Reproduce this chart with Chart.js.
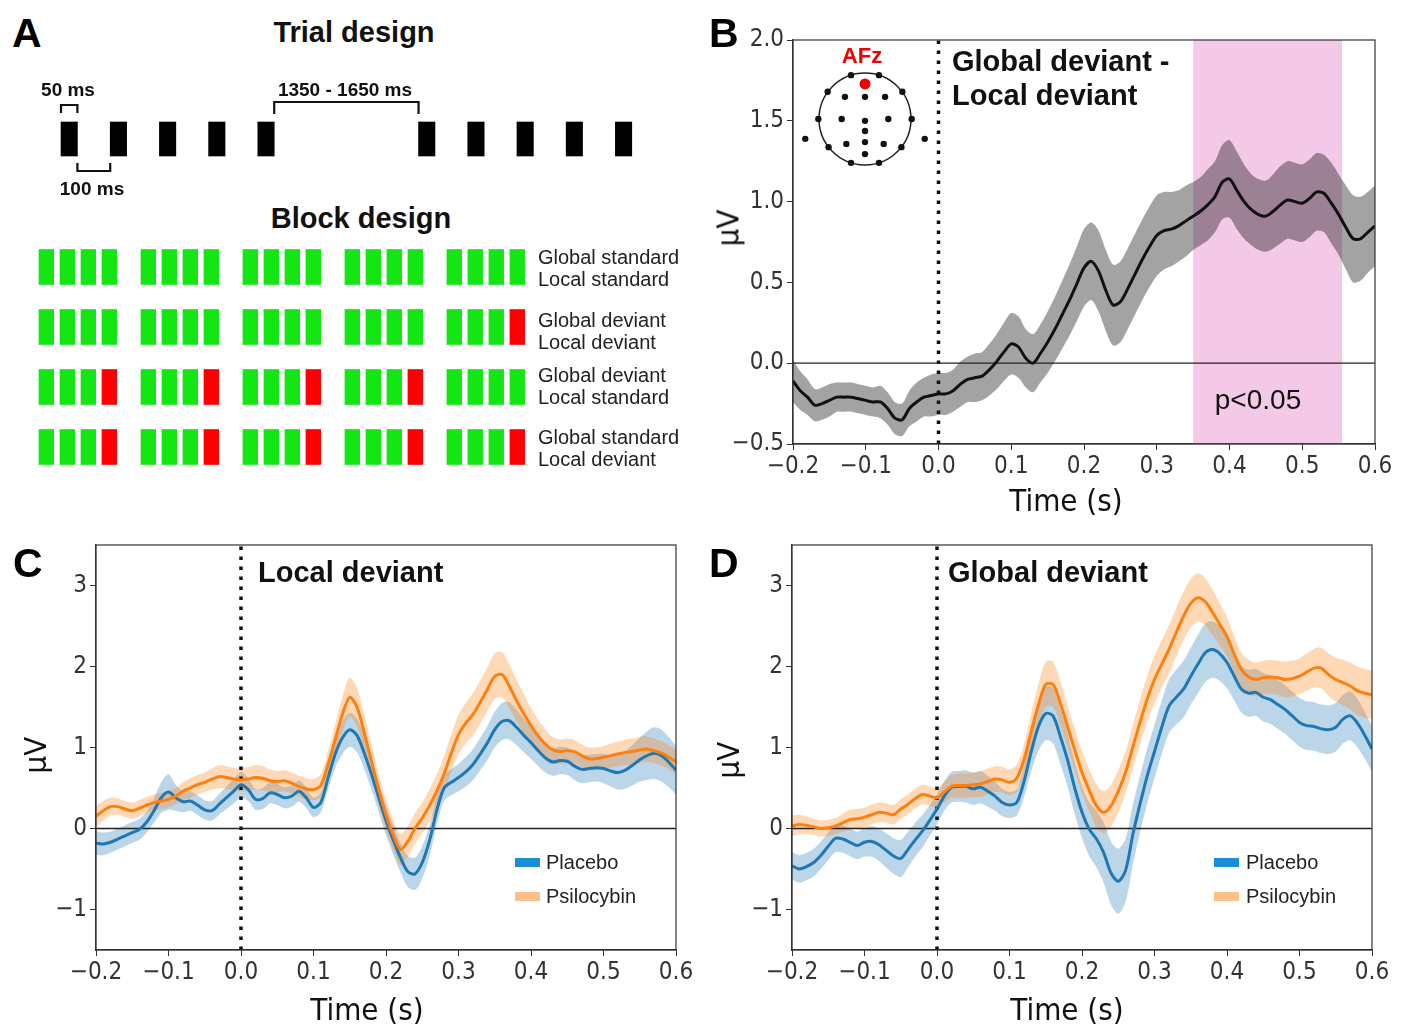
<!DOCTYPE html>
<html>
<head>
<meta charset="utf-8">
<script src="https://cdn.jsdelivr.net/npm/chart.js@4.4.0/dist/chart.umd.min.js"></script>
<style>
body { margin: 0; background: #fff; }
#fig { position: relative; width: 1406px; height: 1027px; overflow: hidden; font-family: "Liberation Sans", Arial, sans-serif; }
#fig canvas { position: absolute; }
.t { position: absolute; white-space: nowrap; line-height: 1; color: #111; }
.sw { position: absolute; }
</style>
</head>
<body>
<div id="fig">
  <canvas id="trial" width="700" height="100" style="left:0;top:89px"></canvas>
  <canvas id="blocks" width="700" height="240" style="left:0;top:240px"></canvas>
  <canvas id="chartB" width="706" height="517" style="left:700px;top:0"></canvas>
  <canvas id="head" width="140" height="120" style="left:795px;top:59px"></canvas>
  <canvas id="chartC" width="700" height="507" style="left:0;top:520px"></canvas>
  <canvas id="chartD" width="706" height="507" style="left:700px;top:520px"></canvas>
</div>
<script>
// ---- panel A: trial and block design ----
var TONE_MS = 50;
var TRIAL_ONSETS = [0, 150, 300, 450, 600, 1090, 1240, 1390, 1540, 1690];

var BLOCK_ROWS = [
    ['AAAA', 'AAAA', 'AAAA', 'AAAA', 'AAAA'],
    ['AAAA', 'AAAA', 'AAAA', 'AAAA', 'AAAB'],
    ['AAAB', 'AAAB', 'AAAB', 'AAAB', 'AAAA'],
    ['AAAB', 'AAAB', 'AAAB', 'AAAB', 'AAAB']
];
var ROW_LABELS = [
    ['Global standard', 'Local standard'],
    ['Global deviant', 'Local deviant'],
    ['Global deviant', 'Local standard'],
    ['Global standard', 'Local deviant']
];

// ---- ERP time courses (s, µV) ----
var TIME = [-0.20,-0.19,-0.18,-0.17,-0.16,-0.15,-0.14,-0.13,-0.12,-0.11,
    -0.10,-0.09,-0.08,-0.07,-0.06,-0.05,-0.04,-0.03,-0.02,-0.01,
    0.00,0.01,0.02,0.03,0.04,0.05,0.06,0.07,0.08,0.09,
    0.10,0.11,0.12,0.13,0.14,0.15,0.16,0.17,0.18,0.19,
    0.20,0.21,0.22,0.23,0.24,0.25,0.26,0.27,0.28,0.29,
    0.30,0.31,0.32,0.33,0.34,0.35,0.36,0.37,0.38,0.39,
    0.40,0.41,0.42,0.43,0.44,0.45,0.46,0.47,0.48,0.49,
    0.50,0.51,0.52,0.53,0.54,0.55,0.56,0.57,0.58,0.59,
    0.60];

var B_DIFF = [-0.11,-0.17,-0.21,-0.26,-0.25,-0.23,-0.21,-0.21,-0.21,-0.22,
    -0.23,-0.24,-0.24,-0.28,-0.34,-0.35,-0.28,-0.24,-0.21,-0.20,
    -0.19,-0.19,-0.17,-0.13,-0.10,-0.09,-0.08,-0.04,0.01,0.07,
    0.12,0.10,0.03,0.00,0.06,0.13,0.21,0.30,0.39,0.49,
    0.59,0.63,0.57,0.45,0.36,0.38,0.46,0.55,0.64,0.72,
    0.79,0.82,0.83,0.85,0.88,0.91,0.94,0.98,1.03,1.12,
    1.14,1.07,1.00,0.95,0.92,0.91,0.94,0.98,1.01,1.00,
    0.99,1.02,1.06,1.05,0.99,0.92,0.84,0.77,0.77,0.81,
    0.85];
var B_SEM = [0.13,0.12,0.11,0.10,0.10,0.10,0.09,0.09,0.09,0.09,
    0.09,0.09,0.10,0.10,0.10,0.10,0.11,0.12,0.12,0.13,
    0.13,0.13,0.13,0.14,0.14,0.15,0.15,0.16,0.17,0.18,
    0.19,0.19,0.18,0.18,0.18,0.19,0.20,0.21,0.22,0.23,
    0.24,0.24,0.25,0.25,0.25,0.25,0.25,0.25,0.25,0.25,
    0.25,0.24,0.23,0.22,0.22,0.21,0.21,0.22,0.22,0.23,
    0.24,0.24,0.23,0.22,0.22,0.22,0.23,0.24,0.24,0.24,
    0.24,0.24,0.24,0.24,0.25,0.25,0.26,0.27,0.26,0.25,
    0.25];
var SIG_WINDOW = [0.35, 0.555];

var C_PLA = [-0.18,-0.19,-0.17,-0.13,-0.09,-0.05,-0.01,0.08,0.22,0.38,
    0.45,0.38,0.33,0.34,0.29,0.23,0.22,0.30,0.38,0.46,
    0.54,0.48,0.36,0.37,0.44,0.42,0.38,0.40,0.46,0.38,
    0.26,0.32,0.62,0.92,1.12,1.22,1.15,0.93,0.67,0.38,
    0.10,-0.14,-0.36,-0.53,-0.56,-0.42,-0.15,0.22,0.50,0.57,
    0.63,0.70,0.79,0.92,1.06,1.22,1.32,1.33,1.25,1.15,
    1.06,0.96,0.87,0.82,0.84,0.83,0.77,0.73,0.74,0.75,
    0.74,0.71,0.69,0.72,0.78,0.85,0.90,0.93,0.90,0.82,
    0.72];
var C_PLA_SEM = [0.15,0.14,0.13,0.13,0.13,0.13,0.13,0.13,0.15,0.19,
    0.22,0.16,0.13,0.12,0.12,0.12,0.12,0.13,0.14,0.15,
    0.16,0.14,0.13,0.13,0.13,0.13,0.13,0.13,0.13,0.13,
    0.12,0.12,0.14,0.17,0.20,0.21,0.21,0.20,0.19,0.18,
    0.18,0.18,0.18,0.19,0.20,0.20,0.19,0.18,0.16,0.16,
    0.17,0.18,0.19,0.20,0.21,0.22,0.23,0.23,0.22,0.21,
    0.20,0.19,0.18,0.17,0.17,0.17,0.17,0.17,0.17,0.17,
    0.18,0.19,0.21,0.23,0.25,0.27,0.30,0.32,0.32,0.31,
    0.30];
var C_PSI = [0.15,0.22,0.27,0.27,0.24,0.22,0.25,0.29,0.32,0.34,
    0.36,0.40,0.46,0.50,0.54,0.57,0.61,0.64,0.63,0.61,
    0.60,0.61,0.63,0.62,0.59,0.58,0.59,0.56,0.52,0.49,
    0.48,0.53,0.79,1.10,1.41,1.62,1.50,1.18,0.83,0.48,
    0.17,-0.08,-0.26,-0.16,0.00,0.13,0.28,0.46,0.67,0.93,
    1.16,1.30,1.41,1.56,1.72,1.88,1.90,1.76,1.58,1.42,
    1.27,1.14,1.04,0.97,0.95,0.96,0.95,0.90,0.86,0.86,
    0.88,0.90,0.92,0.94,0.95,0.97,0.98,0.96,0.93,0.88,
    0.82];
var C_PSI_SEM = [0.13,0.12,0.11,0.10,0.10,0.10,0.10,0.10,0.10,0.10,
    0.10,0.10,0.11,0.12,0.12,0.12,0.13,0.14,0.14,0.14,
    0.14,0.15,0.15,0.15,0.14,0.13,0.13,0.13,0.13,0.13,
    0.13,0.14,0.16,0.19,0.22,0.24,0.24,0.22,0.20,0.19,
    0.19,0.19,0.19,0.19,0.19,0.19,0.20,0.21,0.22,0.23,
    0.24,0.25,0.26,0.27,0.27,0.28,0.28,0.27,0.26,0.24,
    0.22,0.20,0.18,0.16,0.15,0.15,0.14,0.14,0.14,0.14,
    0.14,0.15,0.15,0.16,0.16,0.16,0.16,0.15,0.15,0.15,
    0.15];

var D_PLA = [-0.46,-0.50,-0.47,-0.42,-0.33,-0.22,-0.12,-0.13,-0.17,-0.21,
    -0.17,-0.16,-0.20,-0.27,-0.34,-0.37,-0.26,-0.14,-0.03,0.10,
    0.24,0.40,0.51,0.52,0.52,0.49,0.51,0.46,0.40,0.32,
    0.29,0.32,0.58,0.95,1.26,1.42,1.39,1.14,0.85,0.50,
    0.20,-0.01,-0.13,-0.30,-0.55,-0.65,-0.52,-0.08,0.30,0.65,
    0.95,1.25,1.51,1.62,1.72,1.88,2.03,2.17,2.21,2.16,
    2.05,1.88,1.72,1.67,1.68,1.62,1.59,1.53,1.47,1.39,
    1.31,1.27,1.26,1.23,1.22,1.25,1.35,1.39,1.30,1.15,
    0.98];
var D_PLA_SEM = [0.17,0.17,0.17,0.17,0.17,0.17,0.17,0.17,0.17,0.17,
    0.18,0.19,0.20,0.21,0.22,0.23,0.22,0.21,0.20,0.19,
    0.18,0.18,0.19,0.19,0.20,0.20,0.20,0.19,0.18,0.17,
    0.16,0.16,0.19,0.24,0.30,0.33,0.34,0.34,0.33,0.32,
    0.32,0.33,0.35,0.37,0.39,0.40,0.39,0.37,0.35,0.34,
    0.33,0.33,0.33,0.34,0.35,0.35,0.36,0.36,0.35,0.34,
    0.32,0.30,0.29,0.29,0.29,0.30,0.30,0.30,0.30,0.30,
    0.30,0.30,0.30,0.30,0.30,0.30,0.30,0.30,0.30,0.29,
    0.28];
var D_PSI = [0.03,0.05,0.04,0.02,0.00,0.01,0.03,0.07,0.11,0.12,
    0.14,0.17,0.20,0.19,0.17,0.24,0.30,0.37,0.42,0.40,
    0.38,0.45,0.52,0.53,0.53,0.54,0.55,0.58,0.61,0.60,
    0.57,0.62,0.85,1.20,1.53,1.78,1.78,1.55,1.26,0.97,
    0.69,0.47,0.28,0.20,0.28,0.46,0.69,1.00,1.31,1.60,
    1.84,2.03,2.21,2.42,2.62,2.78,2.85,2.80,2.67,2.52,
    2.37,2.15,1.96,1.87,1.84,1.86,1.87,1.86,1.84,1.85,
    1.88,1.93,1.98,1.98,1.90,1.84,1.80,1.76,1.70,1.67,
    1.65];
var D_PSI_SEM = [0.13,0.12,0.11,0.10,0.10,0.10,0.10,0.11,0.12,0.12,
    0.12,0.12,0.12,0.12,0.12,0.12,0.12,0.12,0.12,0.12,
    0.12,0.13,0.14,0.15,0.15,0.15,0.16,0.16,0.16,0.16,
    0.16,0.17,0.19,0.23,0.26,0.28,0.28,0.27,0.26,0.26,
    0.26,0.26,0.26,0.26,0.26,0.26,0.26,0.27,0.28,0.29,
    0.29,0.29,0.30,0.30,0.30,0.30,0.30,0.29,0.28,0.26,
    0.24,0.22,0.21,0.21,0.21,0.21,0.21,0.21,0.22,0.22,
    0.22,0.23,0.24,0.25,0.26,0.27,0.28,0.29,0.30,0.30,
    0.30];

var X_TICKS = [-0.2, -0.1, 0.0, 0.1, 0.2, 0.3, 0.4, 0.5, 0.6];
var X_TICK_LABELS = ['\u22120.2', '\u22120.1', '0.0', '0.1', '0.2', '0.3', '0.4', '0.5', '0.6'];
var B_Y_TICKS = [-0.5, 0.0, 0.5, 1.0, 1.5, 2.0];
var B_Y_TICK_LABELS = ['\u22120.5', '0.0', '0.5', '1.0', '1.5', '2.0'];
var CD_Y_TICKS = [-1, 0, 1, 2, 3];
var CD_Y_TICK_LABELS = ['\u22121', '0', '1', '2', '3'];

// electrode layout for the inset (unit head circle)
var ELEC_X = [-0.3, 0.3, -0.8, 0.8, -0.43, 0, 0.43, -1, -0.5, 0, 0.5, 1, 0, -1.28, 1.28, -0.78, -0.4, 0, 0.4, 0.78, 0, -0.3, 0.3];
var ELEC_Y = [0.95, 0.95, 0.59, 0.59, 0.48, 0.48, 0.48, 0, 0, -0.04, 0, 0, -0.26, -0.43, -0.43, -0.61, -0.54, -0.5, -0.54, -0.61, -0.76, -0.95, -0.95];
var AFZ = [0, 0.76];

// ---- styling ----
var PLA_COLOR = '#1f77b4', PLA_BAND = 'rgba(31,119,180,0.3)';
var PSI_COLOR = '#ff7f0e', PSI_BAND = 'rgba(255,127,14,0.3)';
var TICK_FONT = { family: '"DejaVu Sans Condensed", "DejaVu Sans", sans-serif', size: 24 };
var AXIS_TITLE = 'font-family:"DejaVu Sans Condensed","DejaVu Sans",sans-serif;font-size:31px;color:#111';

var fig = document.getElementById('fig');

function addText(str, x, y, css, align, rotate) {
    var d = document.createElement('div');
    d.className = 't';
    d.textContent = str;
    d.style.cssText = css + ';left:' + x + 'px;top:' + y + 'px';
    var tx = align === 'center' ? '-50%' : '0';
    d.style.transform = 'translate(' + tx + ',-50%)' + (rotate ? ' rotate(' + rotate + 'deg)' : '');
    fig.appendChild(d);
}

function swatch(x, y, w, h, color) {
    var d = document.createElement('div');
    d.className = 'sw';
    d.style.cssText = 'left:' + x + 'px;top:' + y + 'px;width:' + w + 'px;height:' + h + 'px;background:' + color;
    fig.appendChild(d);
}

function pts(xs, ys) {
    return xs.map(function (x, i) { return { x: x, y: ys[i] }; });
}

var boxPlugin = {
    id: 'box',
    afterDraw: function (chart) {
        var a = chart.chartArea, ctx = chart.ctx;
        ctx.save();
        ctx.strokeStyle = '#333';
        ctx.lineWidth = 1.2;
        ctx.strokeRect(a.left, a.top, a.right - a.left, a.bottom - a.top);
        ctx.restore();
    }
};

var noPlugins = { legend: { display: false }, tooltip: { enabled: false } };

// ---- trial design ----
function bracket(x0, x1, yBase, yTop) {
    return [{ x: x0, y: yBase }, { x: x0, y: yTop }, { x: x1, y: yTop }, { x: x1, y: yBase }];
}
function bracketSet(data) {
    return { type: 'line', data: data, borderColor: '#111', borderWidth: 2.2, pointRadius: 0, tension: 0, fill: false };
}

new Chart(document.getElementById('trial'), {
    type: 'bar',
    data: {
        datasets: [
            bracketSet(bracket(TRIAL_ONSETS[0], TRIAL_ONSETS[0] + TONE_MS, 0.52, 0.68)),
            bracketSet(bracket(TRIAL_ONSETS[0] + TONE_MS, TRIAL_ONSETS[1], -0.48, -0.64)),
            bracketSet(bracket(TRIAL_ONSETS[4] + TONE_MS, TRIAL_ONSETS[5], 0.5, 0.74)),
            {
                indexAxis: 'y',
                data: TRIAL_ONSETS.map(function (o) { return { x: [o, o + TONE_MS], y: 0 }; }),
                backgroundColor: '#000',
                barThickness: 34,
                grouped: false
            }
        ]
    },
    options: {
        responsive: false,
        animation: false,
        layout: { padding: 0, autoPadding: false },
        plugins: noPlugins,
        scales: {
            x: { type: 'linear', min: -186, max: 1948, offset: false, display: false },
            y: { type: 'linear', min: -1, max: 1, offset: false, display: false }
        }
    }
});

// ---- block design ----
var GROUP_PITCH = 4.857;
var greenBars = [], redBars = [];
BLOCK_ROWS.forEach(function (row, r) {
    row.forEach(function (block, g) {
        block.split('').forEach(function (tone, k) {
            var x0 = g * GROUP_PITCH + k;
            var bar = { x: [x0, x0 + 0.7], y: r };
            (tone === 'A' ? greenBars : redBars).push(bar);
        });
    });
});

new Chart(document.getElementById('blocks'), {
    type: 'bar',
    data: {
        datasets: [
            { indexAxis: 'y', data: greenBars, backgroundColor: '#14e614', barThickness: 35, grouped: false },
            { indexAxis: 'y', data: redBars, backgroundColor: '#ff0000', barThickness: 35, grouped: false }
        ]
    },
    options: {
        responsive: false,
        animation: false,
        layout: { padding: 0, autoPadding: false },
        plugins: noPlugins,
        scales: {
            x: { type: 'linear', min: -1.857, max: 31.48, offset: false, display: false },
            y: { type: 'linear', min: -0.45, max: 3.55, reverse: true, offset: false, display: false }
        }
    }
});

// ---- ERP panels ----
function makeErp(id, cfg) {
    var datasets = [];
    cfg.series.forEach(function (s) {
        datasets.push({ data: pts(TIME, s.mean), borderColor: s.color, borderWidth: 3, pointRadius: 0, tension: 0.3, fill: false, order: 0 });
    });
    datasets.push({ data: [{ x: -0.2, y: 0 }, { x: 0.6, y: 0 }], borderColor: '#222', borderWidth: 1.3, pointRadius: 0, fill: false, order: 1 });
    datasets.push({ data: [{ x: 0, y: cfg.yMin }, { x: 0, y: cfg.yMax }], borderColor: '#111', borderWidth: 3.5, borderDash: [3.5, 6.5], pointRadius: 0, fill: false, order: 1 });
    cfg.series.forEach(function (s) {
        var up = s.mean.map(function (m, i) { return m + s.sem[i]; });
        var lo = s.mean.map(function (m, i) { return m - s.sem[i]; });
        datasets.push({ data: pts(TIME, up), borderWidth: 0, pointRadius: 0, tension: 0.3, fill: '+1', backgroundColor: s.band, order: 2 });
        datasets.push({ data: pts(TIME, lo), borderWidth: 0, pointRadius: 0, tension: 0.3, fill: false, order: 2 });
    });
    if (cfg.shade) {
        datasets.push({ data: [{ x: cfg.shade[0], y: cfg.yMax }, { x: cfg.shade[1], y: cfg.yMax }], borderWidth: 0, pointRadius: 0, tension: 0, fill: 'start', backgroundColor: 'rgba(227,119,194,0.4)', order: 3 });
    }

    return new Chart(document.getElementById(id), {
        type: 'line',
        data: { datasets: datasets },
        options: {
            responsive: false,
            animation: false,
            layout: { padding: { left: cfg.padL, right: cfg.padR, top: cfg.padT, bottom: 0 } },
            plugins: noPlugins,
            scales: {
                x: {
                    type: 'linear', min: -0.2, max: 0.6,
                    afterBuildTicks: function (s) { s.ticks = X_TICKS.map(function (v) { return { value: v }; }); },
                    afterFit: function (s) { s.height = cfg.xAxisH; },
                    ticks: { font: TICK_FONT, color: '#333', padding: 2, maxRotation: 0, autoSkip: false,
                        callback: function (v, i) { return X_TICK_LABELS[i]; } },
                    grid: { drawOnChartArea: false, tickLength: 6, color: '#333' },
                    border: { color: '#333', width: 1.2 }
                },
                y: {
                    type: 'linear', min: cfg.yMin, max: cfg.yMax,
                    afterBuildTicks: function (s) { s.ticks = cfg.yTicks.map(function (v) { return { value: v }; }); },
                    afterFit: function (s) { s.width = cfg.yAxisW; },
                    ticks: { font: TICK_FONT, color: '#333', padding: 3, autoSkip: false,
                        callback: function (v, i) { return cfg.yLabels[i]; } },
                    grid: { drawOnChartArea: false, tickLength: 6, color: '#333' },
                    border: { color: '#333', width: 1.2 }
                }
            }
        },
        plugins: [boxPlugin]
    });
}

makeErp('chartB', {
    yMin: -0.5, yMax: 2.0, yTicks: B_Y_TICKS, yLabels: B_Y_TICK_LABELS,
    padL: 13, yAxisW: 80, padR: 31, padT: 40, xAxisH: 73,
    shade: SIG_WINDOW,
    series: [{ mean: B_DIFF, sem: B_SEM, color: '#111', band: 'rgba(0,0,0,0.36)' }]
});

makeErp('chartC', {
    yMin: -1.5, yMax: 3.5, yTicks: CD_Y_TICKS, yLabels: CD_Y_TICK_LABELS,
    padL: 20, yAxisW: 76, padR: 24, padT: 25, xAxisH: 77,
    series: [
        { mean: C_PSI, sem: C_PSI_SEM, color: PSI_COLOR, band: PSI_BAND },
        { mean: C_PLA, sem: C_PLA_SEM, color: PLA_COLOR, band: PLA_BAND }
    ]
});

makeErp('chartD', {
    yMin: -1.5, yMax: 3.5, yTicks: CD_Y_TICKS, yLabels: CD_Y_TICK_LABELS,
    padL: 13, yAxisW: 79, padR: 34, padT: 25, xAxisH: 77,
    series: [
        { mean: D_PSI, sem: D_PSI_SEM, color: PSI_COLOR, band: PSI_BAND },
        { mean: D_PLA, sem: D_PLA_SEM, color: PLA_COLOR, band: PLA_BAND }
    ]
});

// ---- electrode inset ----
new Chart(document.getElementById('head'), {
    type: 'scatter',
    data: {
        datasets: [
            { data: [{ x: AFZ[0], y: AFZ[1] }], pointRadius: 5.5, backgroundColor: '#ee0000', borderWidth: 0 },
            { data: pts(ELEC_X, ELEC_Y), pointRadius: 3.2, backgroundColor: '#111', borderWidth: 0 },
            { data: [{ x: 0, y: 0 }], pointRadius: 46, backgroundColor: 'rgba(0,0,0,0)', borderColor: '#222', borderWidth: 1.5 }
        ]
    },
    options: {
        responsive: false,
        animation: false,
        layout: { padding: 0, autoPadding: false },
        plugins: noPlugins,
        scales: {
            x: { type: 'linear', min: -1.5, max: 1.5, display: false },
            y: { type: 'linear', min: -1.3, max: 1.3, display: false }
        }
    }
});

// ---- text ----
var LETTER = 'font-weight:bold;font-size:41px;color:#000';
var BOLD_TITLE = 'font-weight:bold;font-size:29px;color:#111';
var SMALL_BOLD = 'font-weight:bold;font-size:19px;color:#111';
var LABEL = 'font-size:20px;color:#222';

addText('A', 12, 33, LETTER);
addText('Trial design', 354, 32, BOLD_TITLE, 'center');
addText('50 ms', 68, 89, SMALL_BOLD, 'center');
addText('1350 - 1650 ms', 345, 89, SMALL_BOLD, 'center');
addText('100 ms', 92, 188, SMALL_BOLD, 'center');
addText('Block design', 361, 218, BOLD_TITLE, 'center');
var ROW_TEXT_Y = [[257, 279], [320, 342], [375, 397], [437, 459]];
ROW_LABELS.forEach(function (pair, r) {
    addText(pair[0], 538, ROW_TEXT_Y[r][0], LABEL);
    addText(pair[1], 538, ROW_TEXT_Y[r][1], LABEL);
});

addText('B', 709, 33, LETTER);
addText('AFz', 862, 56, 'font-weight:bold;font-size:22px;color:#ee0000', 'center');
addText('Global deviant -', 952, 61, BOLD_TITLE);
addText('Local deviant', 952, 95, BOLD_TITLE);
addText('p<0.05', 1258, 400, 'font-size:28px;color:#111', 'center');

addText('C', 13, 563, LETTER);
addText('Local deviant', 258, 572, BOLD_TITLE);
addText('D', 709, 563, LETTER);
addText('Global deviant', 948, 572, BOLD_TITLE);

// axis titles
addText('Time (s)', 1066, 500, AXIS_TITLE, 'center');
addText('Time (s)', 367, 1009, AXIS_TITLE, 'center');
addText('Time (s)', 1067, 1009, AXIS_TITLE, 'center');
addText('\u00b5V', 728, 228, AXIS_TITLE, 'center', -90);
addText('\u00b5V', 35, 755, AXIS_TITLE, 'center', -90);
addText('\u00b5V', 728, 760, AXIS_TITLE, 'center', -90);

[[515, 546], [1214, 1246]].forEach(function (p) {
    swatch(p[0], 858, 25, 9, '#1a8cd8');
    addText('Placebo', p[1], 862, LABEL);
    swatch(p[0], 892, 25, 9, '#fdc089');
    addText('Psilocybin', p[1], 896, LABEL);
});
</script>
</body>
</html>
